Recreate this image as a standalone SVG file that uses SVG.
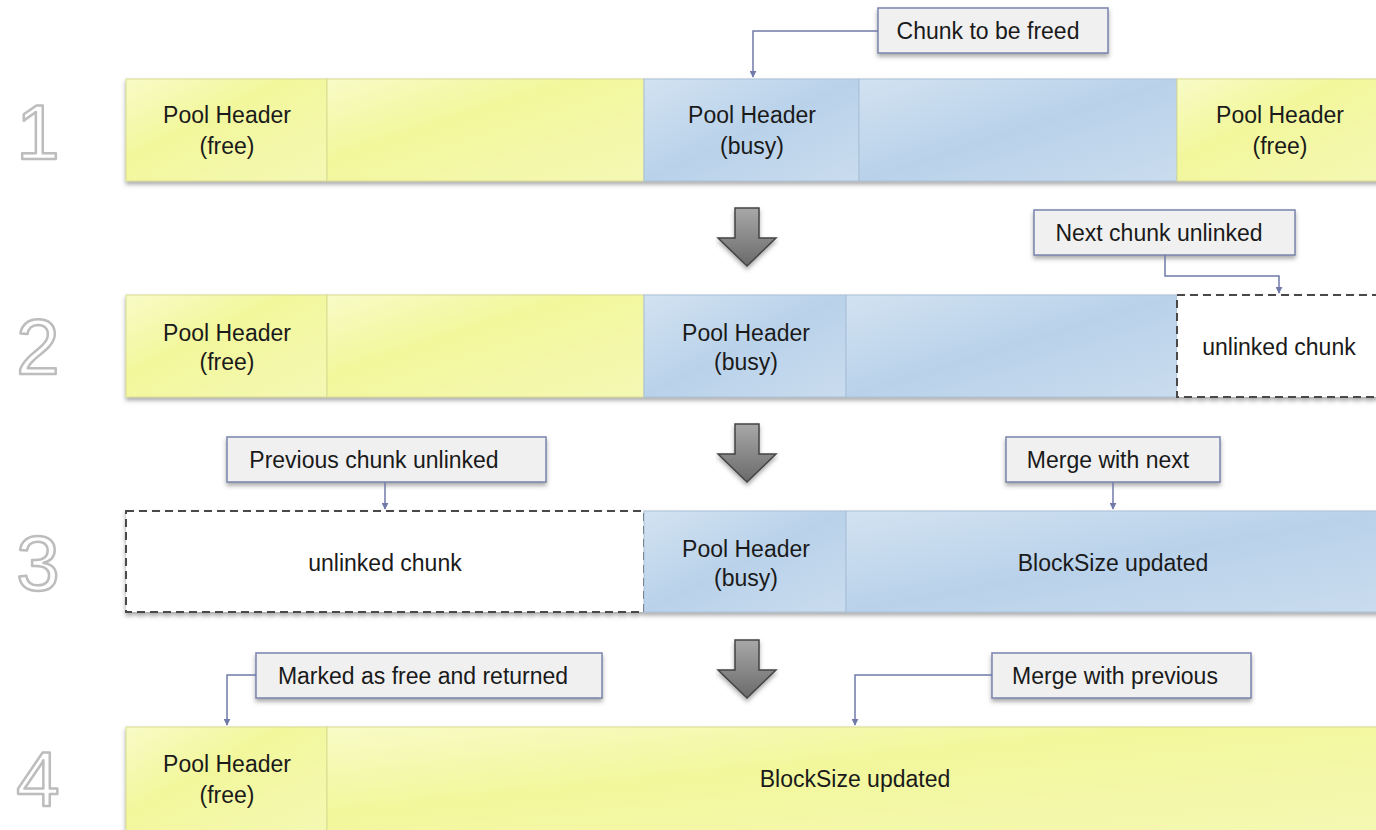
<svg xmlns="http://www.w3.org/2000/svg" width="1376" height="830" viewBox="0 0 1376 830">
<defs>
<style>
.t{font-family:"Liberation Sans",Arial,sans-serif;font-size:23px;fill:#1a1a1a;text-anchor:middle;dominant-baseline:central}
.num{font-family:"Liberation Sans",Arial,sans-serif;font-size:78px;fill:#ffffff;stroke:#bdbdbd;stroke-width:2.5;stroke-linejoin:round;text-anchor:middle;dominant-baseline:central}
.y{fill:url(#gy);stroke:#d8dc90;stroke-width:1}
.b{fill:url(#gb);stroke:#a9c0d8;stroke-width:1}
.d{fill:#ffffff;stroke:#4a4a4a;stroke-width:2;stroke-dasharray:8 5}
.co{fill:#f0f0f0;stroke:#7a84ad;stroke-width:1.5}
.cn{fill:none;stroke:#6f7aa8;stroke-width:1.5}
.ga{fill:url(#gg);stroke:#444;stroke-width:1.5}
</style>
<linearGradient id="gy" x1="0" y1="0" x2="1" y2="1">
<stop offset="0" stop-color="#f8fbc6"/>
<stop offset="0.4" stop-color="#f2f79c"/>
<stop offset="1" stop-color="#f5f8b4"/>
</linearGradient>
<linearGradient id="gb" x1="0" y1="0" x2="1" y2="1">
<stop offset="0" stop-color="#d2e2f1"/>
<stop offset="0.5" stop-color="#b9d2ea"/>
<stop offset="1" stop-color="#cadcee"/>
</linearGradient>
<linearGradient id="gg" x1="0" y1="0" x2="0" y2="1">
<stop offset="0" stop-color="#a8a8a8"/>
<stop offset="1" stop-color="#6a6a6a"/>
</linearGradient>
<filter id="sh" x="-5%" y="-10%" width="110%" height="130%">
<feDropShadow dx="0" dy="3" stdDeviation="2" flood-color="#555" flood-opacity="0.5"/>
</filter>
<marker id="ah" viewBox="0 0 10 10" refX="9" refY="5" markerWidth="7" markerHeight="7" markerUnits="userSpaceOnUse" orient="auto">
<path d="M0,0 L10,5 L0,10 z" fill="#6f7aa8"/>
</marker>
</defs>
<rect width="1376" height="830" fill="#ffffff"/>

<!-- step numbers -->
<g id="numbers">
<text class="num" x="38" y="132">1</text>
<text class="num" x="38" y="347">2</text>
<text class="num" x="38" y="563">3</text>
<text class="num" x="38" y="779">4</text>
</g>

<!-- Row 1 -->
<g id="row1" filter="url(#sh)">
<rect class="y" x="126" y="79" width="201" height="102"/>
<rect class="y" x="327" y="79" width="317" height="102"/>
<rect class="b" x="644" y="79" width="215" height="102"/>
<rect class="b" x="859" y="79" width="318" height="102"/>
<rect class="y" x="1177" y="79" width="210" height="102"/>
</g>
<g id="row1-text">
<text class="t" x="227" y="115">Pool Header</text>
<text class="t" x="227" y="146">(free)</text>
<text class="t" x="752" y="115">Pool Header</text>
<text class="t" x="752" y="146">(busy)</text>
<text class="t" x="1280" y="115">Pool Header</text>
<text class="t" x="1280" y="146">(free)</text>
</g>

<!-- Row 2 -->
<g id="row2" filter="url(#sh)">
<rect class="y" x="126" y="295" width="201" height="102"/>
<rect class="y" x="327" y="295" width="317" height="102"/>
<rect class="b" x="644" y="295" width="202" height="102"/>
<rect class="b" x="846" y="295" width="331" height="102"/>
<rect class="d" x="1177" y="295" width="210" height="102"/>
</g>
<g id="row2-text">
<text class="t" x="227" y="333">Pool Header</text>
<text class="t" x="227" y="362">(free)</text>
<text class="t" x="746" y="333">Pool Header</text>
<text class="t" x="746" y="362">(busy)</text>
<text class="t" x="1279" y="347">unlinked chunk</text>
</g>

<!-- Row 3 -->
<g id="row3" filter="url(#sh)">
<rect class="d" x="126" y="511" width="518" height="101"/>
<rect class="b" x="644" y="511" width="202" height="101"/>
<rect class="b" x="846" y="511" width="541" height="101"/>
</g>
<g id="row3-text">
<text class="t" x="385" y="563">unlinked chunk</text>
<text class="t" x="746" y="549">Pool Header</text>
<text class="t" x="746" y="578">(busy)</text>
<text class="t" x="1113" y="563">BlockSize updated</text>
</g>

<!-- Row 4 -->
<g id="row4" filter="url(#sh)">
<rect class="y" x="126" y="727" width="201" height="110"/>
<rect class="y" x="327" y="727" width="1060" height="110"/>
</g>
<g id="row4-text">
<text class="t" x="227" y="764">Pool Header</text>
<text class="t" x="227" y="795">(free)</text>
<text class="t" x="855" y="779">BlockSize updated</text>
</g>

<!-- big step arrows -->
<g id="step-arrows" filter="url(#sh)">
<path class="ga" d="M735,208 H759 V238 H776 L747,266 L718,238 H735 Z"/>
<path class="ga" d="M735,424 H759 V454 H776 L747,482 L718,454 H735 Z"/>
<path class="ga" d="M735,640 H759 V670 H776 L747,698 L718,670 H735 Z"/>
</g>

<!-- callouts -->
<g id="callout-chunk-to-be-freed">
<rect class="co" x="878" y="8" width="230" height="45" filter="url(#sh)"/>
<text class="t" x="988" y="31">Chunk to be freed</text>
</g>
<g id="callout-next-chunk-unlinked">
<rect class="co" x="1034" y="210" width="261" height="45" filter="url(#sh)"/>
<text class="t" x="1159" y="233">Next chunk unlinked</text>
</g>
<g id="callout-previous-chunk-unlinked">
<rect class="co" x="227" y="437" width="319" height="45" filter="url(#sh)"/>
<text class="t" x="374" y="460">Previous chunk unlinked</text>
</g>
<g id="callout-merge-with-next">
<rect class="co" x="1006" y="437" width="214" height="45" filter="url(#sh)"/>
<text class="t" x="1108" y="460">Merge with next</text>
</g>
<g id="callout-marked-free">
<rect class="co" x="256" y="653" width="346" height="45" filter="url(#sh)"/>
<text class="t" x="423" y="676">Marked as free and returned</text>
</g>
<g id="callout-merge-with-previous">
<rect class="co" x="992" y="653" width="259" height="45" filter="url(#sh)"/>
<text class="t" x="1115" y="676">Merge with previous</text>
</g>

<!-- connectors -->
<g id="connectors">
<path class="cn" d="M878,31 H753 V77" marker-end="url(#ah)"/>
<path class="cn" d="M1165,255 V276 H1279 V293" marker-end="url(#ah)"/>
<path class="cn" d="M385,482 V509" marker-end="url(#ah)"/>
<path class="cn" d="M1113,482 V509" marker-end="url(#ah)"/>
<path class="cn" d="M256,675 H227 V725" marker-end="url(#ah)"/>
<path class="cn" d="M992,675 H855 V725" marker-end="url(#ah)"/>
</g>
</svg>
